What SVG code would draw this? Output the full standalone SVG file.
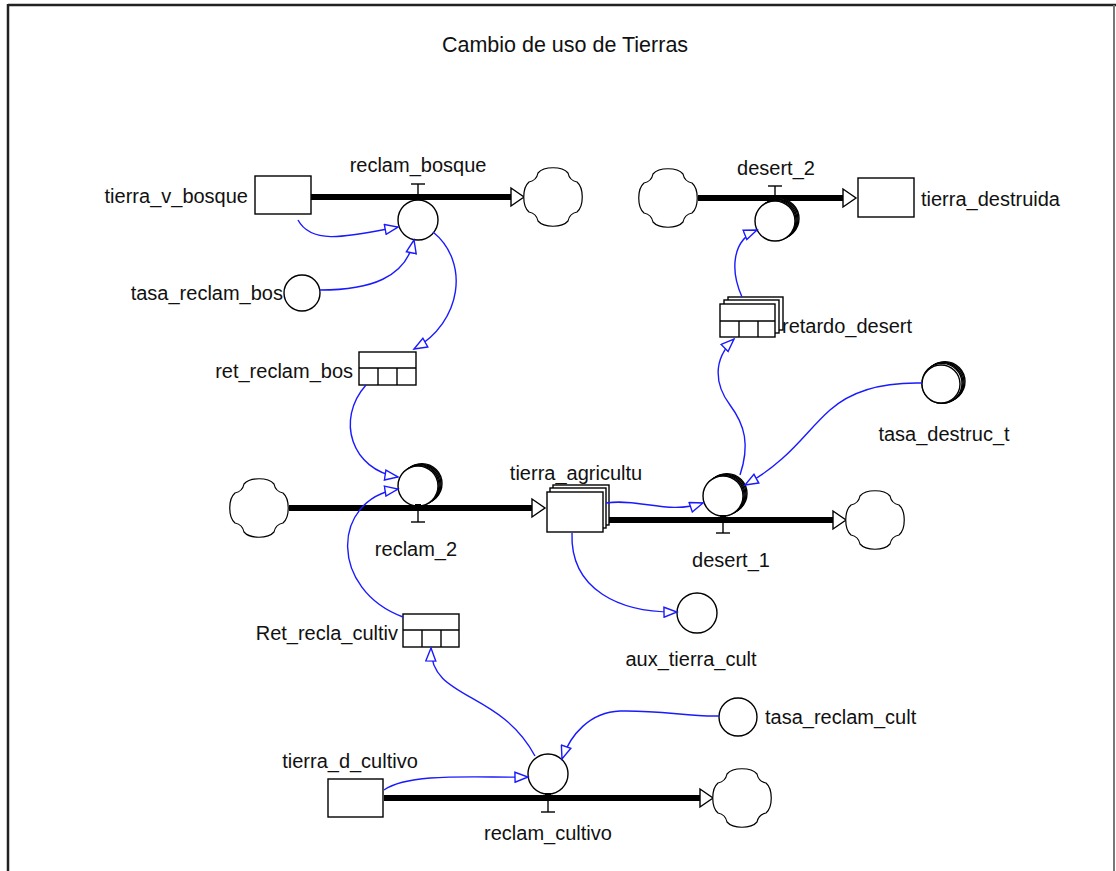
<svg xmlns="http://www.w3.org/2000/svg" width="1116" height="871" viewBox="0 0 1116 871">
  <style>
    .lbl { font-family: "Liberation Sans", Arial, sans-serif; font-size: 20px; fill: #111; }
    .title { font-size: 21.5px; }
    .box { fill: #fff; stroke: #000; stroke-width: 1.4; }
    .pipe { fill: none; stroke: #000; stroke-width: 6; }
    .tee { fill: none; stroke: #000; stroke-width: 1.4; }
    .cloud { fill: #fff; stroke: #000; stroke-width: 1.2; }
    .link { fill: none; stroke: #1a1aff; stroke-width: 1.4; marker-end: url(#linkHead); }
  </style>
  <defs>
    <marker id="linkHead" markerUnits="userSpaceOnUse" markerWidth="16" markerHeight="12" refX="14" refY="6" orient="auto">
      <path d="M1,1 L14,6 L1,11 Z" fill="#fff" stroke="#1a1aff" stroke-width="1.4"/>
    </marker>
    <path id="cloudShape" d="M-15,-24 C-9,-31 9,-31 15,-24 C16,-19 19,-16 24,-15 C31,-9 31,9 24,15 C19,16 16,19 15,24 C9,31 -9,31 -15,24 C-16,19 -19,16 -24,15 C-31,9 -31,-9 -24,-15 C-19,-16 -16,-19 -15,-24 Z"/>
    <path id="pipeHead" d="M0,-9 L13,0 L0,9 Z" fill="#fff" stroke="#000" stroke-width="1.4"/>
    <g id="arrayRing">
      <circle cx="4" cy="-2.4" r="20" class="box"/>
      <circle cx="3" cy="-1.8" r="20" class="box"/>
      <circle cx="2" cy="-1.2" r="20" class="box"/>
      <circle cx="1" cy="-0.6" r="20" class="box"/>
    </g>
  </defs>

  <!-- window frame -->
  <rect x="0" y="0" width="1116" height="871" fill="#fff"/>
  <line x1="8" y1="5" x2="1116" y2="5" stroke="#222" stroke-width="2.5"/>
  <line x1="8" y1="4" x2="8" y2="871" stroke="#222" stroke-width="2.5"/>
  <line x1="1114" y1="5" x2="1114" y2="871" stroke="#777" stroke-width="2"/>

  <text class="lbl title" x="565" y="52" text-anchor="middle">Cambio de uso de Tierras</text>

  <!-- flow pipes -->
  <g id="pipes">
    <line class="pipe" x1="311" y1="197" x2="512" y2="197"/>
    <use href="#pipeHead" x="511" y="197"/>
    <line class="pipe" x1="698" y1="198" x2="845" y2="198"/>
    <use href="#pipeHead" x="843" y="198"/>
    <line class="pipe" x1="289" y1="508" x2="533" y2="508"/>
    <use href="#pipeHead" x="532" y="508"/>
    <line class="pipe" x1="603" y1="520" x2="834" y2="520"/>
    <use href="#pipeHead" x="833" y="520"/>
    <line class="pipe" x1="384" y1="798" x2="701" y2="798"/>
    <use href="#pipeHead" x="700" y="798"/>
  </g>

  <!-- clouds -->
  <g id="cloud-bosque-sink"><use href="#cloudShape" class="cloud" transform="translate(553,197)"/></g>
  <g id="cloud-desert2-source"><use href="#cloudShape" class="cloud" transform="translate(668,198)"/></g>
  <g id="cloud-reclam2-source"><use href="#cloudShape" class="cloud" transform="translate(259,508)"/></g>
  <g id="cloud-desert1-sink"><use href="#cloudShape" class="cloud" transform="translate(875,520)"/></g>
  <g id="cloud-cultivo-sink"><use href="#cloudShape" class="cloud" transform="translate(742,798)"/></g>

  <!-- stocks -->
  <g id="tierra_v_bosque">
    <rect class="box" x="255" y="176" width="56" height="38"/>
    <text class="lbl" x="248" y="203" text-anchor="end">tierra_v_bosque</text>
  </g>
  <g id="tierra_destruida">
    <rect class="box" x="858" y="178" width="56" height="39"/>
    <text class="lbl" x="921" y="206">tierra_destruida</text>
  </g>
  <g id="tierra_agricultu">
    <rect class="box" x="553" y="485" width="56" height="40"/>
    <rect class="box" x="550" y="488" width="56" height="40"/>
    <rect class="box" x="547" y="492" width="56" height="40"/>
    <text class="lbl" x="576" y="480" text-anchor="middle">tierra_agricultu</text>
  </g>
  <g id="tierra_d_cultivo">
    <rect class="box" x="328" y="779" width="55" height="38"/>
    <text class="lbl" x="350" y="768" text-anchor="middle">tierra_d_cultivo</text>
  </g>

  <!-- conveyors -->
  <g id="ret_reclam_bos">
    <rect class="box" x="359" y="352" width="57" height="33"/>
    <line class="tee" x1="359" y1="368" x2="416" y2="368"/>
    <line class="tee" x1="378" y1="368" x2="378" y2="385"/>
    <line class="tee" x1="397" y1="368" x2="397" y2="385"/>
    <text class="lbl" x="353" y="378" text-anchor="end">ret_reclam_bos</text>
  </g>
  <g id="retardo_desert">
    <rect class="box" x="728" y="297" width="55" height="33"/>
    <rect class="box" x="724" y="300" width="55" height="33"/>
    <rect class="box" x="720" y="304" width="55" height="33"/>
    <line class="tee" x1="720" y1="321" x2="775" y2="321"/>
    <line class="tee" x1="739" y1="321" x2="739" y2="337"/>
    <line class="tee" x1="758" y1="321" x2="758" y2="337"/>
    <text class="lbl" x="782" y="333">retardo_desert</text>
  </g>
  <g id="Ret_recla_cultiv">
    <rect class="box" x="403" y="614" width="56" height="33"/>
    <line class="tee" x1="403" y1="630" x2="459" y2="630"/>
    <line class="tee" x1="422" y1="630" x2="422" y2="647"/>
    <line class="tee" x1="441" y1="630" x2="441" y2="647"/>
    <text class="lbl" x="398" y="640" text-anchor="end">Ret_recla_cultiv</text>
  </g>

  <!-- flow valves -->
  <g id="reclam_bosque">
    <circle class="box" cx="418" cy="220" r="20"/>
    <polyline class="tee" points="411,184 425,184"/>
    <line class="tee" x1="418" y1="184" x2="418" y2="197"/>
    <rect x="415" y="196" width="6" height="4" fill="#000"/>
    <text class="lbl" x="418" y="172" text-anchor="middle">reclam_bosque</text>
  </g>
  <g id="desert_2">
    <use href="#arrayRing" x="775" y="221"/>
    <circle class="box" cx="775" cy="221" r="20"/>
    <polyline class="tee" points="768,186 782,186"/>
    <line class="tee" x1="775" y1="186" x2="775" y2="198"/>
    <rect x="772" y="197" width="6" height="4" fill="#000"/>
    <text class="lbl" x="776" y="175" text-anchor="middle">desert_2</text>
  </g>
  <g id="reclam_2">
    <use href="#arrayRing" x="418" y="486"/>
    <circle class="box" cx="418" cy="486" r="20"/>
    <polyline class="tee" points="411,522 425,522"/>
    <line class="tee" x1="418" y1="508" x2="418" y2="522"/>
    <rect x="415" y="504" width="6" height="4" fill="#000"/>
    <text class="lbl" x="416" y="556" text-anchor="middle">reclam_2</text>
  </g>
  <g id="desert_1">
    <use href="#arrayRing" x="723" y="496"/>
    <circle class="box" cx="723" cy="496" r="20"/>
    <polyline class="tee" points="716,533 730,533"/>
    <line class="tee" x1="723" y1="520" x2="723" y2="533"/>
    <rect x="720" y="515" width="6" height="4" fill="#000"/>
    <text class="lbl" x="731" y="567" text-anchor="middle">desert_1</text>
  </g>
  <g id="reclam_cultivo">
    <circle class="box" cx="548" cy="774" r="20"/>
    <polyline class="tee" points="541,812 555,812"/>
    <line class="tee" x1="548" y1="798" x2="548" y2="812"/>
    <rect x="545" y="793" width="6" height="4" fill="#000"/>
    <text class="lbl" x="548" y="840" text-anchor="middle">reclam_cultivo</text>
  </g>

  <!-- converters -->
  <g id="tasa_reclam_bos">
    <circle class="box" cx="302" cy="293" r="18"/>
    <text class="lbl" x="283" y="300" text-anchor="end">tasa_reclam_bos</text>
  </g>
  <g id="tasa_destruc_t">
    <use href="#arrayRing" x="941" y="384"/>
    <circle class="box" cx="941" cy="384" r="19"/>
    <text class="lbl" x="944" y="441" text-anchor="middle">tasa_destruc_t</text>
  </g>
  <g id="aux_tierra_cult">
    <circle class="box" cx="697" cy="613" r="20"/>
    <text class="lbl" x="691" y="666" text-anchor="middle">aux_tierra_cult</text>
  </g>
  <g id="tasa_reclam_cult">
    <circle class="box" cx="738" cy="717" r="19"/>
    <text class="lbl" x="765" y="724">tasa_reclam_cult</text>
  </g>

  <!-- information connectors -->
  <g id="connectors">
    <path class="link" d="M298,220 C312,246 350,236 398,227"/>
    <path class="link" d="M320,290 C370,290 406,278 414,240"/>
    <path class="link" d="M433,232 C470,262 462,322 414,349"/>
    <path class="link" d="M366,385 C335,420 352,470 398,477"/>
    <path class="link" d="M403,617 C330,590 330,500 398,489"/>
    <path class="link" d="M606,503 C640,498 668,515 703,503"/>
    <path class="link" d="M922,383 C880,382 850,392 830,410 C805,432 790,460 745,485"/>
    <path class="link" d="M740,475 C750,445 745,425 730,405 C715,385 712,360 734,339"/>
    <path class="link" d="M742,297 C730,270 732,240 757,230"/>
    <path class="link" d="M572,533 C570,590 620,613 677,612"/>
    <path class="link" d="M719,716 C690,717 660,710 620,711 C590,712 570,735 562,759"/>
    <path class="link" d="M535,756 C500,690 430,700 431,648"/>
    <path class="link" d="M384,790 C410,772 480,778 528,777"/>
  </g>
</svg>
